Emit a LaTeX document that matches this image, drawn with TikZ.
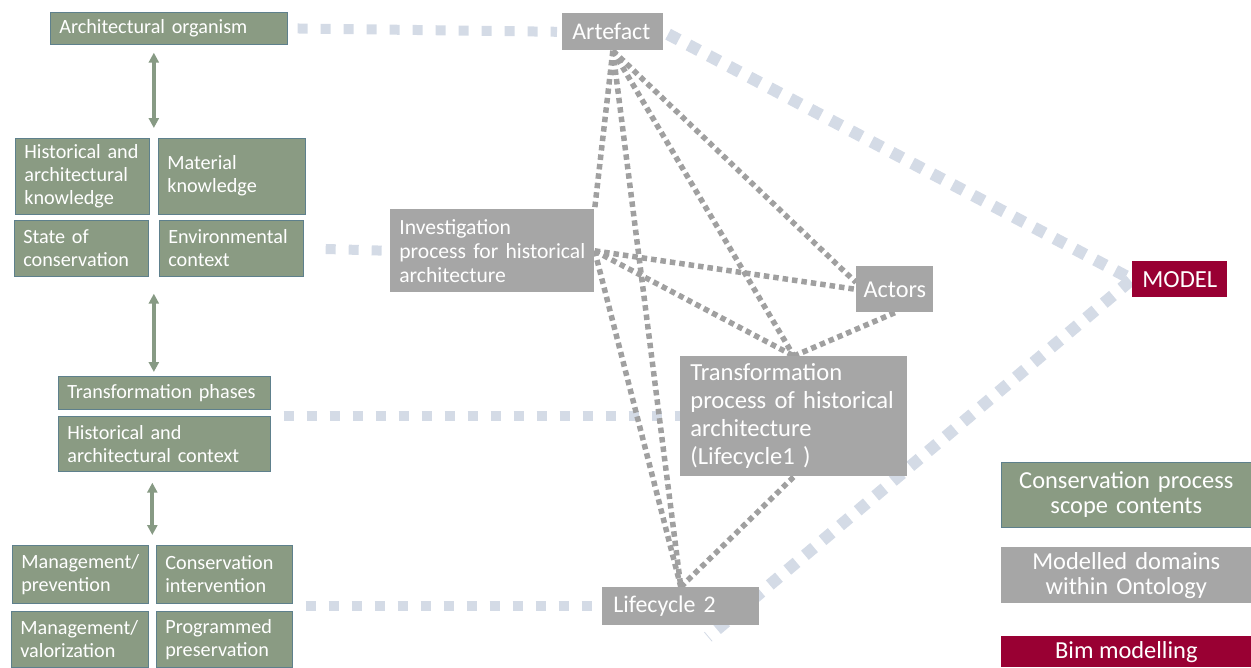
\documentclass[tikz,border=0pt]{standalone}
\usepackage{fontspec}
\setmainfont{Carlito}
\usetikzlibrary{calc,backgrounds,arrows.meta}

\definecolor{greenbox}{RGB}{138,155,131}
\definecolor{greenline}{RGB}{94,128,140}
\definecolor{greybox}{RGB}{166,166,166}
\definecolor{bimred}{RGB}{153,0,51}
\definecolor{tieblue}{RGB}{212,219,230}
\definecolor{relgrey}{RGB}{160,160,160}
\definecolor{arrowgreen}{RGB}{135,154,132}
\hyphenpenalty=10000

\begin{document}
\begin{tikzpicture}[x=0.02cm, y=-0.02cm,
    content/.style={rectangle, draw=greenline, fill=greenbox, text=white, anchor=north west, align=left,
        inner xsep=0.18cm, inner ysep=0pt, font=\fontsize{11.5}{13.1}\selectfont},
    modelled/.style={rectangle, fill=greybox, text=white, anchor=north west, align=left,
        inner xsep=0.2cm, inner ysep=0pt},
    bim/.style={rectangle, fill=bimred, text=white, anchor=north west, align=center, inner sep=0pt},
    tie/.style={draw=tieblue, line width=0.2cm, dash pattern=on 0.2cm off 0.26cm},
    bigtie/.style={draw=tieblue, line width=0.24cm, dash pattern=on 0.24cm off 0.22cm},
    rel/.style={draw=relgrey, line width=0.11cm, dash pattern=on 0.11cm off 0.08cm},
    updown/.style={{Triangle[length=2mm,width=2mm]}-{Triangle[length=2mm,width=2mm]},
        draw=arrowgreen, line width=0.8mm}]
    \useasboundingbox (0,0) rectangle (1251,667);

    \node[content, minimum width=4.74cm, minimum height=0.64cm, text width=4.38cm] (arch) at (50,12) {Architectural organism};
    \node[content, minimum width=2.68cm, minimum height=1.52cm, text width=2.32cm] (hak) at (15,138) {Historical and\\architectural\\knowledge};
    \node[content, minimum width=2.94cm, minimum height=1.52cm, text width=2.58cm, text depth=0.56cm] (matk) at (158,138) {Material\\knowledge};
    \node[content, minimum width=2.68cm, minimum height=1.12cm, text width=2.32cm] (soc) at (14,220) {State of\\conservation};
    \node[content, minimum width=2.88cm, minimum height=1.12cm, text width=2.52cm] (env) at (159,220) {Environmental\\context};
    \node[content, minimum width=4.24cm, minimum height=0.66cm, text width=3.88cm] (trph) at (58,376) {Transformation phases};
    \node[content, minimum width=4.24cm, minimum height=1.10cm, text width=3.88cm] (hac) at (58,416) {Historical and\\architectural context};
    \node[content, minimum width=2.72cm, minimum height=1.16cm, text width=2.36cm] (mprev) at (12,545) {Management/\\prevention};
    \node[content, minimum width=2.72cm, minimum height=1.16cm, text width=2.36cm] (consint) at (156,545) {Conservation\\intervention};
    \node[content, minimum width=2.74cm, minimum height=1.12cm, text width=2.38cm] (mval) at (11,611) {Management/\\valorization};
    \node[content, minimum width=2.72cm, minimum height=1.12cm, text width=2.36cm] (progp) at (156,611) {Programmed\\preservation};

    \node[modelled, minimum width=2.02cm, minimum height=0.74cm, text width=1.62cm, font=\fontsize{13.6}{16}\selectfont] (artefact) at (562,13) {Artefact};
    \node[modelled, minimum width=4.08cm, minimum height=1.66cm, text width=3.72cm, inner xsep=0.18cm, font=\fontsize{12.3}{13.7}\selectfont] (invest) at (390,209) {Investigation\\process for historical\\architecture};
    \node[modelled, minimum width=1.54cm, minimum height=0.92cm, align=center, inner xsep=0pt, font=\fontsize{13.8}{16}\selectfont] (actors) at (856,266) {Actors};
    \node[modelled, minimum width=4.54cm, minimum height=2.40cm, text width=4.14cm, font=\fontsize{14}{15.9}\selectfont] (transf) at (680,356) {Transformation\\process of historical\\architecture\\(Lifecycle1 )};
    \node[modelled, minimum width=3.14cm, minimum height=0.76cm, text width=2.70cm, inner xsep=0.22cm, font=\fontsize{13.6}{16}\selectfont] (lifec) at (602,587) {Lifecycle 2};
    \node[bim, minimum width=1.90cm, minimum height=0.72cm, font=\fontsize{14}{16}\selectfont] (model) at (1132,261) {MODEL};

    \node[content, align=center, inner xsep=0pt, minimum width=5.0cm, minimum height=1.30cm, text width=5.0cm, font=\fontsize{13.9}{14.2}\selectfont] (leg1) at (1001,462) {Conservation process\\scope contents};
    \node[modelled, align=center, inner xsep=0pt, minimum width=5.0cm, minimum height=1.12cm, text width=5.0cm, font=\fontsize{13.9}{14.2}\selectfont] (leg2) at (1001,547) {Modelled domains\\within Ontology};
    \node[bim, minimum width=5.0cm, minimum height=0.62cm, font=\fontsize{13.9}{16}\selectfont] (leg3) at (1001,636) {Bim modelling};

    \coordinate (k1) at ($(hak.north east)!.5!(matk.north west)$);
    \coordinate (k2) at ($(soc.south east)!.5!(env.south west)$);
    \coordinate (k3) at ($(mprev.north east)!.5!(consint.north west)$);
    \coordinate (tail) at (708,637);

    \draw[updown, shorten <=0.2cm, shorten >=0.16cm] (k1) -- (k1 |- arch.south);
    \draw[updown, shorten <=0.34cm, shorten >=0.08cm] (k2) -- (k2 |- trph.north);
    \draw[updown, shorten <=0.22cm, shorten >=0.2cm] (k3 |- hac.south) -- (k3);

    \begin{scope}[on background layer]
        \draw[tie, shorten <=0.2cm, shorten >=0.1cm] (arch.east) -- (artefact.west);
        \draw[tie, shorten <=0.44cm, shorten >=0.1cm] (env.east) -- (invest.west);
        \draw[tie, shorten <=0.26cm] (hac.east |- transf.west) -- (transf.west);
        \draw[tie, shorten <=0.26cm] (consint.east |- lifec.west) -- (lifec.west);
        \draw[bigtie, shorten <=0.1cm, shorten >=0.04cm] (artefact.east) -- (model.west);
        \draw[bigtie, shorten <=0.04cm] (model.west) -- (tail);

        \draw[rel] (artefact.south) -- (invest.north east);
        \draw[rel] (artefact.south) -- (lifec.north);
        \draw[rel] (artefact.south) -- (transf.north);
        \draw[rel] (artefact.south) -- (actors.170);
        \draw[rel] (invest.east) -- (lifec.north);
        \draw[rel] (invest.east) -- (actors.west);
        \draw[rel] (invest.east) -- (transf.north);
        \draw[rel] (actors.south) -- (transf.north);
        \draw[rel] (lifec.north) -- (transf.south);
    \end{scope}
\end{tikzpicture}
\end{document}
